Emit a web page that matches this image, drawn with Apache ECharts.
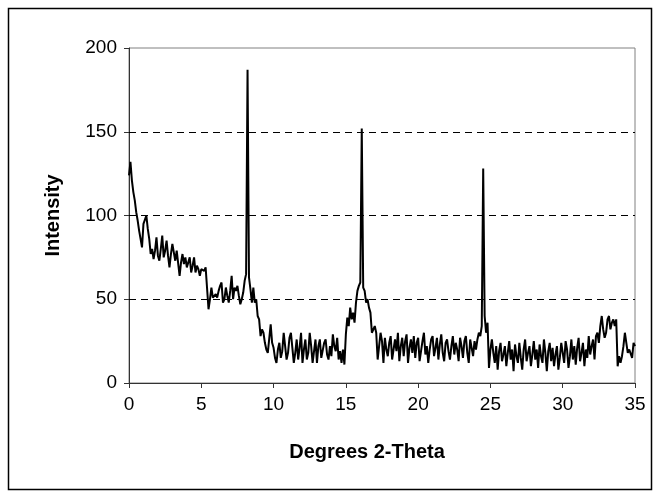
<!DOCTYPE html>
<html>
<head>
<meta charset="utf-8">
<script src="https://cdn.jsdelivr.net/npm/echarts@6/dist/echarts.min.js"></script>
<style>
  html, body { margin: 0; padding: 0; background: #fff; }
  #chart { width: 658px; height: 495px; }
</style>
</head>
<body>
<div id="chart"></div>
<script>
// Scan grid: 0.0 to 35.0 degrees 2-theta in 0.1 degree steps
const START_ANGLE = 0;
const STEP_ANGLE = 0.1;

// Intensity values, 10 per degree
const intensity = [
  124,132,121,114,109,102,97,91,86,81,
  95,96,100,92,86,77,80,74,79,87,
  76,73,80,88,75,79,85,76,69,77,
  83,78,73,79,80,64,72,77,71,75,
  69,72,75,66,70,75,66,70,68,64,
  68,69,67,69,68,44,50,57,51,50,
  53,51,55,58,60,48,50,57,52,48,
  55,64,50,57,55,58,52,47,50,54,
  61,65,187,63,56,48,57,48,50,40,
  38,28,32,30,24,20,18,17,35,24,
  21,15,12,20,24,15,19,30,22,14,
  18,27,30,21,12,18,26,14,21,30,
  12,20,26,14,18,30,22,12,19,26,
  12,22,26,15,14,24,26,17,14,22,
  16,29,22,19,27,14,19,12,20,11,
  29,39,34,45,38,42,36,48,55,58,
  60,152,57,55,48,50,45,42,30,29,
  34,30,14,22,30,25,12,27,20,16,
  24,28,14,20,26,19,30,13,22,27,
  16,25,29,12,21,26,18,28,15,24,
  27,13,19,25,30,17,22,12,20,26,
  28,16,21,27,14,23,29,18,13,24,
  26,19,14,22,28,17,24,20,13,27,
  22,15,25,28,18,12,26,21,16,25,
  20,26,30,28,34,128,40,30,36,9,
  20,26,18,12,22,8,19,24,13,17,
  22,10,18,25,14,20,7,23,16,12,
  24,15,8,20,26,13,18,22,10,17,
  25,14,20,9,23,16,12,26,18,7,
  19,24,13,21,10,17,22,8,15,24,
  18,12,25,20,9,16,26,14,22,11,
  21,27,13,18,24,10,20,15,28,17,
  22,26,14,28,30,24,34,40,32,27,
  30,38,40,32,36,38,34,38,10,16,
  12,16,22,30,24,18,20,21,15,24,
  22
];

const xTicks = { min: 0, max: 35, interval: 5 };
const yTicks = { min: 0, max: 200, interval: 50 };
const gridValues = [50, 100, 150];

const points = intensity.map((v, i) => [Math.round((START_ANGLE + i * STEP_ANGLE) * 10) / 10, v]);

const FONT = "'Liberation Sans', Arial, sans-serif";
const chart = echarts.init(document.getElementById('chart'), null, { renderer: 'canvas' });

chart.setOption({
  backgroundColor: '#ffffff',
  animation: false,
  graphic: [{
    type: 'rect',
    shape: { x: 8.5, y: 8.5, width: 643, height: 481 },
    style: { fill: 'none', stroke: '#000', lineWidth: 1.5 },
    silent: true
  }],
  grid: {
    left: 129, right: 23, top: 48, bottom: 112,
    show: true, borderColor: '#808080', borderWidth: 1, backgroundColor: 'transparent'
  },
  xAxis: {
    type: 'value',
    min: xTicks.min, max: xTicks.max, interval: xTicks.interval,
    name: 'Degrees 2-Theta',
    nameLocation: 'middle',
    nameGap: 59,
    nameTextStyle: { fontFamily: FONT, fontSize: 20, fontWeight: 'bold', color: '#000', padding: [0, 30, 0, 0] },
    axisLine: { show: true, onZero: false, lineStyle: { color: '#333', width: 1 } },
    axisTick: { show: true, inside: false, length: 5, lineStyle: { color: '#333' } },
    axisLabel: { fontFamily: FONT, fontSize: 19, color: '#000', margin: 12, showMinLabel: true, showMaxLabel: true },
    splitLine: { show: false }
  },
  yAxis: {
    type: 'value',
    min: yTicks.min, max: yTicks.max, interval: yTicks.interval,
    name: 'Intensity',
    nameLocation: 'middle',
    nameGap: 66,
    nameTextStyle: { fontFamily: FONT, fontSize: 20, fontWeight: 'bold', color: '#000' },
    axisLine: { show: true, lineStyle: { color: '#333', width: 1 } },
    axisTick: { show: true, inside: false, length: 5, lineStyle: { color: '#333' } },
    axisLabel: { fontFamily: FONT, fontSize: 19, color: '#000', margin: 12, showMinLabel: true, showMaxLabel: true },
    splitLine: { show: false }
  },
  series: [{
    type: 'line',
    data: points,
    showSymbol: false,
    symbol: 'none',
    lineStyle: { color: '#000', width: 2 },
    z: 3,
    markLine: {
      silent: true,
      symbol: 'none',
      label: { show: false },
      lineStyle: { color: '#000', width: 1, type: [7, 5] },
      data: gridValues.map(v => ({ yAxis: v }))
    }
  }]
});
</script>
</body>
</html>
